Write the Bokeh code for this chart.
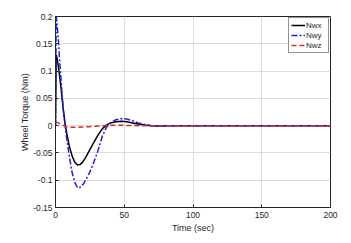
from bokeh.plotting import figure
from bokeh.models import FixedTicker, Legend, LegendItem, Range1d
from bokeh.embed import file_html
from bokeh.resources import INLINE

t_x = [0, 0.5, 1, 2, 3, 4, 5, 6, 7, 8, 10, 12, 14, 16, 18, 20, 22, 25, 28, 31, 34, 37, 40, 44, 48, 52, 56, 60, 65, 70, 75, 80, 90, 100, 200]
nwx = [0, 0.13, 0.125, 0.11, 0.09, 0.07, 0.045, 0.022, 0.003, -0.012, -0.037, -0.055, -0.067, -0.072, -0.071, -0.066, -0.058, -0.044, -0.03, -0.017, -0.006, 0.001, 0.005, 0.007, 0.008, 0.007, 0.005, 0.003, 0.001, 0, -0.0005, 0, 0, 0, 0]
nwy = [0, 0.2, 0.19, 0.16, 0.12, 0.085, 0.05, 0.022, 0, -0.02, -0.055, -0.085, -0.104, -0.114, -0.113, -0.108, -0.099, -0.085, -0.066, -0.045, -0.02, -0.003, 0.005, 0.011, 0.013, 0.012, 0.009, 0.005, 0.002, 0, -0.001, -0.0005, 0, 0, 0]
t_z = [0, 2, 5, 8, 12, 16, 20, 25, 30, 35, 40, 50, 60, 200]
nwz = [0.007, 0.005, 0.001, -0.002, -0.003, -0.003, -0.0025, -0.002, -0.001, 0, 0.0005, 0.0005, 0, 0]

x_ticks = [0, 50, 100, 150, 200]
y_ticks = [-0.15, -0.1, -0.05, 0, 0.05, 0.1, 0.15, 0.2]
y_labels = ["-0.15", "-0.1", "-0.05", "0", "0.05", "0.1", "0.15", "0.2"]

FONT = "Liberation Sans"

p = figure(width=343, height=235, output_backend="svg", toolbar_location=None,
           x_range=Range1d(0, 200), y_range=Range1d(-0.15, 0.2),
           min_border_left=55, min_border_right=13, min_border_top=16, min_border_bottom=28)
p.outline_line_color = "#262626"
p.outline_line_width = 1
p.background_fill_color = "white"

for ax in (p.xaxis[0], p.yaxis[0]):
    ax.major_tick_in = 3
    ax.major_tick_out = 0
    ax.minor_tick_in = 0
    ax.minor_tick_out = 0
    ax.axis_line_color = "#262626"
    ax.major_tick_line_color = "#262626"
    ax.major_label_text_font = FONT
    ax.major_label_text_font_size = "8.5px"
    ax.major_label_text_color = "#262626"
    ax.axis_label_text_font = FONT
    ax.axis_label_text_font_size = "9px"
    ax.axis_label_text_font_style = "normal"
    ax.axis_label_text_color = "#262626"

p.xaxis.ticker = FixedTicker(ticks=x_ticks)
p.yaxis.ticker = FixedTicker(ticks=y_ticks)
p.yaxis.major_label_overrides = {v: s for v, s in zip(y_ticks, y_labels)}
p.xaxis.axis_label = "Time (sec)"
p.yaxis.axis_label = "Wheel Torque (Nm)"
p.xaxis.axis_label_standoff = 2
p.yaxis.axis_label_standoff = 0
p.yaxis.major_label_standoff = 3
p.xaxis.major_label_standoff = 4

p.grid.grid_line_color = "#dcdcdc"
p.grid.grid_line_width = 1

r1 = p.line(t_x, nwx, line_color="black", line_width=1.5)
r2 = p.line(t_x, nwy, line_color="#1f1fd6", line_width=1.5, line_dash="6 2 2 2")
r3 = p.line(t_z, nwz, line_color="#e0262b", line_width=1.5, line_dash="5 3")

legend = Legend(items=[LegendItem(label="Nwx", renderers=[r1]),
                       LegendItem(label="Nwy", renderers=[r2]),
                       LegendItem(label="Nwz", renderers=[r3])],
                location="top_right")
legend.label_text_font = FONT
legend.label_text_font_size = "8px"
legend.label_text_color = "#262626"
legend.glyph_width = 14
legend.glyph_height = 10
legend.label_height = 10
legend.label_standoff = 1
legend.spacing = 0
legend.padding = 2
legend.margin = 1
legend.border_line_color = "#262626"
legend.border_line_width = 1
legend.background_fill_alpha = 1
p.add_layout(legend)

open("out.html", "w").write(file_html(p, INLINE))
